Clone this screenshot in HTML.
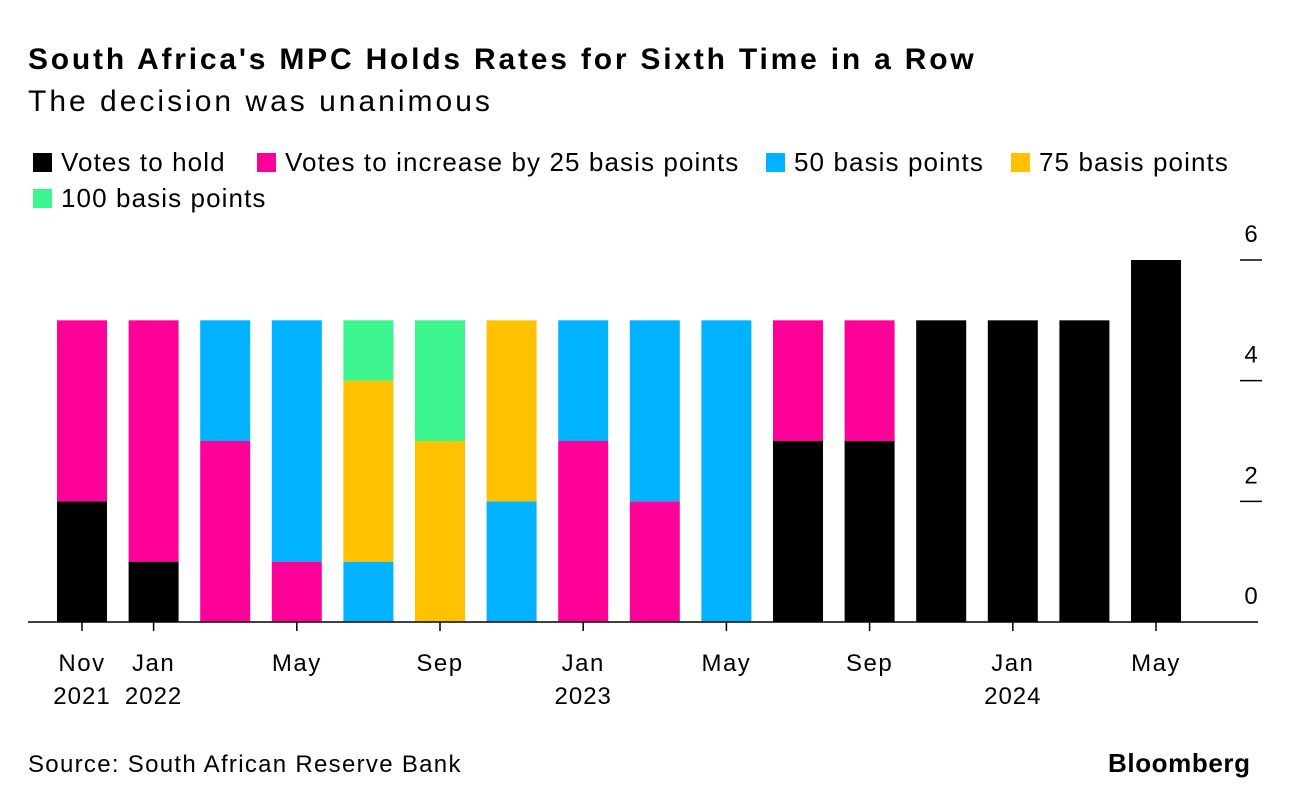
<!DOCTYPE html>
<html><head><meta charset="utf-8"><style>
body{margin:0;background:#fff;font-family:"Liberation Sans",Arial,sans-serif;color:#000}
#wrap{position:relative;width:1289px;height:806px;overflow:hidden}
.t{position:absolute;white-space:nowrap}
.leg{position:absolute;font-size:26px;display:flex;align-items:center;letter-spacing:1.1px}
.sw{width:19px;height:19px;margin-right:9px}
</style></head><body><div id="wrap">
<div class="t" style="left:28px;top:43px;font-size:30px;font-weight:bold;letter-spacing:2.8px">South Africa's MPC Holds Rates for Sixth Time in a Row</div>
<div class="t" style="left:28px;top:85px;font-size:30px;letter-spacing:3px">The decision was unanimous</div>
<div class="leg" style="left:33px;top:147px"><div class="sw" style="background:#000"></div>Votes to hold</div>
<div class="leg" style="left:257px;top:147px"><div class="sw" style="background:#ff0099"></div>Votes to increase by 25 basis points</div>
<div class="leg" style="left:766px;top:147px"><div class="sw" style="background:#00b2ff"></div>50 basis points</div>
<div class="leg" style="left:1011px;top:147px"><div class="sw" style="background:#ffc100"></div>75 basis points</div>
<div class="leg" style="left:33px;top:183px"><div class="sw" style="background:#3df58f"></div>100 basis points</div>
<svg id="plot" width="1289" height="806" style="position:absolute;left:0;top:0"></svg>
<div class="t" style="left:28px;top:751px;font-size:24px;letter-spacing:1.3px">Source: South African Reserve Bank</div>
<div class="t" style="left:1108px;top:748px;font-size:26px;font-weight:bold;letter-spacing:0.6px">Bloomberg</div>
</div>
<script>
const categories=["Nov 2021","Jan 2022","Mar 2022","May 2022","Jul 2022","Sep 2022","Nov 2022","Jan 2023","Mar 2023","May 2023","Jul 2023","Sep 2023","Nov 2023","Jan 2024","Mar 2024","May 2024"];
const hold=[2,1,0,0,0,0,0,0,0,0,3,3,5,5,5,6];
const inc25=[3,4,3,1,0,0,0,3,2,0,2,2,0,0,0,0];
const inc50=[0,0,2,4,1,0,2,2,3,5,0,0,0,0,0,0];
const inc75=[0,0,0,0,3,3,3,0,0,0,0,0,0,0,0,0];
const inc100=[0,0,0,0,1,2,0,0,0,0,0,0,0,0,0,0];
const yTicks=[0,2,4,6];
const xLabels=[[0,"Nov","2021"],[1,"Jan","2022"],[3,"May",""],[5,"Sep",""],[7,"Jan","2023"],[9,"May",""],[11,"Sep",""],[13,"Jan","2024"],[15,"May",""]];
const svg=document.getElementById('plot');const NS="http://www.w3.org/2000/svg";
const y0=622,unit=(622-260)/6;
function y(v){return y0-v*unit;}
function x(i){return 82+i*71.6;}
function mk(t,a){const e=document.createElementNS(NS,t);for(const k in a)e.setAttribute(k,a[k]);svg.appendChild(e);return e;}
const series=[[hold,"#000","hold"],[inc25,"#ff0099","25bp"],[inc50,"#00b2ff","50bp"],[inc75,"#ffc100","75bp"],[inc100,"#3df58f","100bp"]];
categories.forEach((c,i)=>{let base=0;series.forEach(([arr,col,n])=>{const v=arr[i];if(v>0){const r=mk('rect',{x:x(i)-25,y:y(base+v),width:50,height:y(base)-y(base+v),fill:col});

}base+=v;});});
mk('line',{x1:28,x2:1258,y1:y0,y2:y0,stroke:'#000','stroke-width':1.5});
yTicks.forEach(v=>{if(v>0){const l=mk('line',{x1:1240,x2:1262,y1:y(v),y2:y(v),stroke:'#000','stroke-width':1.5});

}
const t=mk('text',{x:1251,y:y(v)-18,'font-size':24,'text-anchor':'middle','font-family':'Liberation Sans, sans-serif'});t.textContent=v;

});
xLabels.forEach(([i,m,yr])=>{mk('line',{x1:x(i),x2:x(i),y1:y0,y2:y0+9,stroke:'#000','stroke-width':1.5});
const t=mk('text',{x:x(i),y:671,'font-size':24,'text-anchor':'middle','letter-spacing':'1.5','font-family':'Liberation Sans, sans-serif'});t.textContent=m;


if(yr){const t2=mk('text',{x:x(i),y:704,'font-size':24,'text-anchor':'middle','letter-spacing':'1','font-family':'Liberation Sans, sans-serif'});t2.textContent=yr;

}});
</script></body></html>
